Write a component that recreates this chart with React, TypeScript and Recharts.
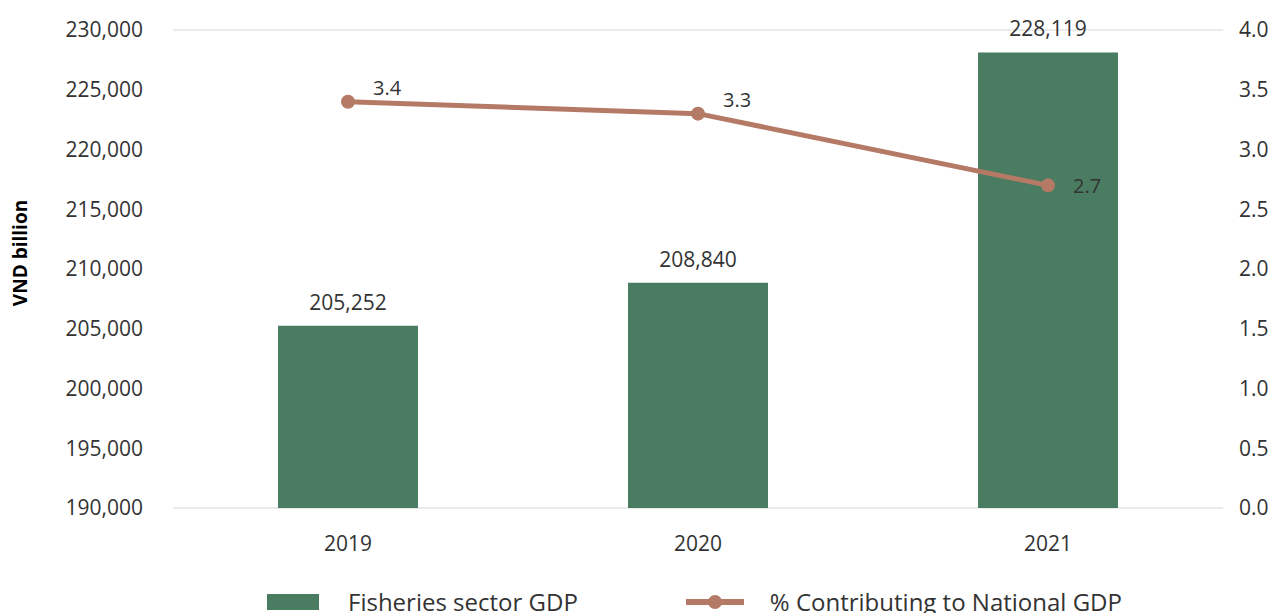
import React from 'react'
import { Bar, CartesianGrid, ComposedChart, LabelList, Legend, Line, XAxis, YAxis } from 'recharts'

const years = ['2019', '2020', '2021']
const fisheriesGdp = [205252, 208840, 228119]
const sharePct = [3.4, 3.3, 2.7]
const leftTicks = [190000, 195000, 200000, 205000, 210000, 215000, 220000, 225000, 230000]
const rightTicks = [0, 0.5, 1, 1.5, 2, 2.5, 3, 3.5, 4]

const data = years.map((year, i) => ({
  year,
  gdp: fisheriesGdp[i],
  pct: sharePct[i]
}))

const BAR_COLOR = '#497c61'
const LINE_COLOR = '#b57a66'
const FONT = "'Open Sans', sans-serif"
const TEXT = '#333333'

const fmt = (v: number) => v.toLocaleString('en-US')

const PctLabel = (props: any) => {
  const { x, y, value, index } = props
  // last point sits a bit lower, the first two above the line
  const dy = index === 2 ? 2 : -12
  return (
    <text x={x + 25} y={y + dy} fill={TEXT} fontSize={20} fontFamily={FONT} dominantBaseline="middle">
      {value.toFixed(1)}
    </text>
  )
}

const LegendBox = () => (
  <div style={{ display: 'flex', alignItems: 'center', fontFamily: FONT, fontSize: 24, color: TEXT }}>
    <div style={{ width: 52, height: 16, background: BAR_COLOR, marginLeft: 259 }} />
    <span style={{ marginLeft: 29 }}>Fisheries sector GDP</span>
    <svg width={58} height={20} style={{ marginLeft: 108 }}>
      <line x1={0} y1={10} x2={58} y2={10} stroke={LINE_COLOR} strokeWidth={6} />
      <circle cx={29} cy={10} r={7} fill={LINE_COLOR} />
    </svg>
    <span style={{ marginLeft: 26 }}>% Contributing to National GDP</span>
  </div>
)

const App: React.FC = () => {
  // the legend runs past the bottom edge, as in the source image
  return (
    <div style={{ width: 1272, height: 605, overflow: 'hidden' }}>
      <ComposedChart
        width={1272}
        height={620}
        data={data}
        margin={{ top: 22, right: 0, bottom: 3, left: 0 }}
      >
        <CartesianGrid vertical={false} stroke="#ebebeb" strokeWidth={2} />
        <XAxis
          dataKey="year"
          axisLine={false}
          tickLine={false}
          tickSize={0}
          tickMargin={28}
          height={77}
          tick={{ fill: TEXT, fontSize: 21, fontFamily: FONT }}
        />
        <YAxis
          yAxisId="left"
          width={165}
          domain={[190000, 230000]}
          ticks={leftTicks}
          tickFormatter={fmt}
          axisLine={false}
          tickLine={false}
          tickSize={0}
          tickMargin={30}
          tick={{ fill: TEXT, fontSize: 21, fontFamily: FONT }}
          label={{
            value: 'VND billion',
            angle: -90,
            position: 'insideLeft',
            offset: 12,
            dy: -16,
            style: { fill: '#000', fontSize: 19, fontWeight: 'bold', fontFamily: FONT, textAnchor: 'middle' }
          }}
        />
        <YAxis
          yAxisId="right"
          orientation="right"
          width={57}
          domain={[0, 4]}
          ticks={rightTicks}
          tickFormatter={(v: number) => v.toFixed(1)}
          axisLine={false}
          tickLine={false}
          tickSize={0}
          tickMargin={16}
          tick={{ fill: TEXT, fontSize: 21, fontFamily: FONT }}
        />
        <Legend verticalAlign="bottom" height={40} content={<LegendBox />} />
        <Bar yAxisId="left" dataKey="gdp" fill={BAR_COLOR} barSize={140} isAnimationActive={false}>
          <LabelList
            dataKey="gdp"
            position="top"
            offset={16}
            formatter={(v: any) => fmt(v)}
            style={{ fill: TEXT, fontSize: 21, fontFamily: FONT }}
          />
        </Bar>
        <Line
          yAxisId="right"
          dataKey="pct"
          stroke={LINE_COLOR}
          strokeWidth={5}
          dot={{ r: 7, fill: LINE_COLOR, stroke: LINE_COLOR, strokeWidth: 0 }}
          isAnimationActive={false}
        >
          <LabelList dataKey="pct" content={<PctLabel />} />
        </Line>
      </ComposedChart>
    </div>
  )
}

export default App
